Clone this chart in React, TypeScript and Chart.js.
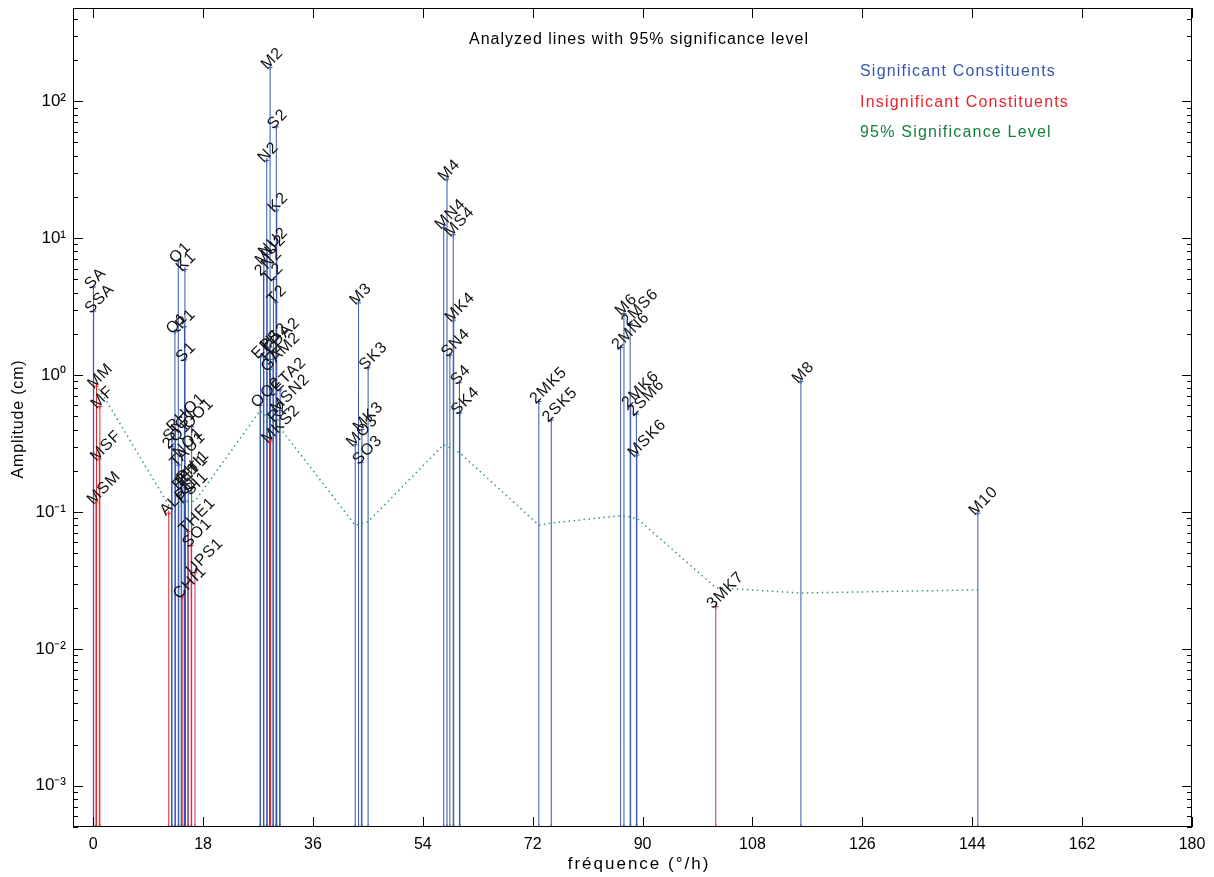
import React, { useEffect, useRef } from 'react';
import { Chart, registerables } from 'chart.js';

Chart.register(...registerables);

// ---- Data ----
const constNames = [
  'SA', 'SSA', 'MSM', 'MM', 'MSF', 'MF',
  'ALP1', '2Q1', 'SIG1', 'Q1', 'RHO1', 'O1', 'TAU1', 'BET1', 'NO1', 'CHI1', 'PI1', 'P1', 'S1', 'K1', 'PSI1', 'PHI1', 'THE1', 'J1', 'SO1', 'OO1', 'UPS1',
  'OQ2', 'EPS2', '2N2', 'MU2', 'N2', 'NU2', 'GAM2', 'H1', 'M2', 'H2', 'MKS2', 'LDA2', 'L2', 'T2', 'S2', 'R2', 'K2', 'MSN2', 'ETA2',
  'MO3', 'M3', 'SO3', 'MK3', 'SK3',
  'MN4', 'M4', 'SN4', 'MS4', 'MK4', 'S4', 'SK4',
  '2MK5', '2SK5',
  '2MN6', 'M6', '2MS6', '2MK6', '2SM6', 'MSK6',
  '3MK7', 'M8', 'M10',
];
const constFreqs = [
  0.0411, 0.0821, 0.4715, 0.5444, 1.0159, 1.098,
  12.3828, 12.8543, 12.9271, 13.3987, 13.4715, 13.943, 14.0252, 14.4145, 14.4967, 14.5695, 14.9179, 14.9589, 15.0, 15.0411, 15.0821, 15.1232, 15.5126, 15.5854, 16.057, 16.1391, 16.6835,
  27.3416, 27.4238, 27.8954, 27.9682, 28.4397, 28.5126, 28.9112, 28.943, 28.9841, 29.0252, 29.0662, 29.4556, 29.5285, 29.9589, 30.0, 30.0411, 30.0821, 30.5444, 30.6265,
  42.9271, 43.4762, 43.943, 44.0252, 45.0411,
  57.4238, 57.9682, 58.4397, 58.9841, 59.0662, 60.0, 60.0821,
  73.0093, 75.0411,
  86.4079, 86.9523, 87.9682, 88.0503, 88.9841, 89.0662,
  101.9913, 115.9364, 144.9205,
];
const constAmps = [
  4.4, 2.93, 0.118, 0.83, 0.244, 0.59,
  0.098, 0.3, 0.34, 2.07, 0.4, 6.8, 0.22, 0.15, 0.26, 0.024, 0.16, 2.25, 1.29, 5.9, 0.12, 0.17, 0.072, 0.14, 0.057, 0.42, 0.036,
  0.6, 1.36, 5.5, 6.6, 37, 7.6, 1.1, 1.6, 177, 1.3, 0.33, 1.5, 5.0, 3.4, 65, 0.47, 16, 0.55, 0.78,
  0.31, 3.37, 0.23, 0.4, 1.13,
  12.0, 27, 1.4, 10.6, 2.52, 0.88, 0.53,
  0.64, 0.47,
  1.59, 2.82, 2.38, 0.6, 0.52, 0.26,
  0.0204, 0.9, 0.098,
];
const constSignificant = [
  true, true, false, false, false, false,
  false, true, true, true, true, true, true, true, true, false, true, true, true, true, true, true, false, true, false, true, false,
  true, true, true, true, true, true, true, true, true, true, false, true, true, true, true, true, true, true, true,
  true, true, true, true, true,
  true, true, true, true, true, true, true,
  true, true,
  true, true, true, true, true, true,
  false, true, true,
];

const sigFreqs = [0.0411, 1.098, 12.3828, 16.6835, 27.3416, 30.6265, 42.9271, 45.0411, 57.4238, 60.0821, 73.0093, 75.0411, 86.4079, 89.0662, 101.9913, 115.9364, 144.9205];
const sigLevels = [0.8, 0.78, 0.112, 0.12, 0.55, 0.41, 0.08, 0.085, 0.31, 0.27, 0.08, 0.083, 0.094, 0.09, 0.028, 0.0256, 0.027];

const xTickValues = [0, 18, 36, 54, 72, 90, 108, 126, 144, 162, 180];
const yTickValues = [1e-3, 1e-2, 1e-1, 1, 10, 100];

const titleText = 'Analyzed lines with 95% significance level';
const legendLabels = ['Significant Constituents', 'Insignificant Constituents', '95% Significance Level'];
const xTitle = 'fréquence (°/h)';
const yTitle = 'Amplitude (cm)';

// ---- Styles ----
const X_MIN = -3.3;
const X_MAX = 180;
const Y_MIN = 5e-4;
const Y_MAX = 480;
const BLUE = '#3557ae';
const RED = '#e8242b';
const GREEN = '#17803f';
const SIG_COLOR = '#2f9a78';
const FONT = '"Liberation Sans", Arial, Helvetica, sans-serif';

const SUP: Record<string, string> = { '-': '⁻', '0': '⁰', '1': '¹', '2': '²', '3': '³', '4': '⁴' };
const supStr = (s: string) => s.split('').map((c) => SUP[c] || c).join('');

function stemData(sig: boolean) {
  const d: any[] = [];
  constNames.forEach((_, i) => {
    if (constSignificant[i] === sig) {
      d.push({ x: constFreqs[i], y: Y_MIN }, { x: constFreqs[i], y: constAmps[i] }, { x: constFreqs[i], y: null });
    }
  });
  return d;
}

const zeroPad = (s: any) => {
  s.paddingTop = 0;
  s.paddingBottom = 0;
  s.paddingLeft = 0;
  s.paddingRight = 0;
};

const decorPlugin = {
  id: 'decor',
  afterDatasetsDraw(chart: any) {
    const { ctx, scales } = chart;
    const xs = scales.x;
    const ys = scales.y;
    ctx.save();
    ctx.fillStyle = '#111';
    ctx.font = `16px ${FONT}`;
    ctx.letterSpacing = '0.8px';
    ctx.textAlign = 'left';
    ctx.textBaseline = 'alphabetic';
    constNames.forEach((n, i) => {
      const px = xs.getPixelForValue(constFreqs[i]);
      const py = ys.getPixelForValue(constAmps[i]);
      ctx.save();
      ctx.translate(px - 3, py + 3);
      ctx.rotate(-Math.PI / 4);
      ctx.fillText(n, 0, 0);
      ctx.restore();
    });
    ctx.restore();
  },
  afterDraw(chart: any) {
    const { ctx, chartArea, scales } = chart;
    const { left, right, top, bottom } = chartArea;
    const xs = scales.x;
    const ys = scales.y;
    ctx.save();
    ctx.strokeStyle = '#000';
    ctx.lineWidth = 1;
    ctx.strokeRect(Math.round(left) + 0.5, Math.round(top) + 0.5, Math.round(right - left) - 1, Math.round(bottom - top) - 1);
    ctx.beginPath();
    xTickValues.forEach((v) => {
      const px = Math.round(xs.getPixelForValue(v)) + 0.5;
      ctx.moveTo(px, bottom);
      ctx.lineTo(px, bottom - 10);
      ctx.moveTo(px, top);
      ctx.lineTo(px, top + 10);
    });
    for (let e = -4; e <= 3; e++) {
      for (let m = 1; m <= 9; m++) {
        const v = m * Math.pow(10, e);
        if (v < Y_MIN || v > Y_MAX) continue;
        const py = Math.round(ys.getPixelForValue(v)) + 0.5;
        const len = m === 1 ? 10 : 5;
        ctx.moveTo(left, py);
        ctx.lineTo(left + len, py);
        ctx.moveTo(right, py);
        ctx.lineTo(right - len, py);
      }
    }
    ctx.stroke();

    // title
    ctx.fillStyle = '#000';
    ctx.font = `16px ${FONT}`;
    ctx.letterSpacing = '1px';
    ctx.textAlign = 'center';
    ctx.textBaseline = 'middle';
    ctx.fillText(titleText, 639, 40);

    // legend
    ctx.font = `16px ${FONT}`;
    ctx.letterSpacing = '1.2px';
    ctx.textAlign = 'left';
    const lc = [BLUE, RED, GREEN];
    legendLabels.forEach((t, i) => {
      ctx.fillStyle = lc[i];
      ctx.fillText(t, 860, 72 + i * 30.5);
    });

    // axis titles
    ctx.fillStyle = '#000';
    ctx.textAlign = 'center';
    ctx.font = `17px ${FONT}`;
    ctx.letterSpacing = '2px';
    ctx.fillText(xTitle, 639, 864);
    ctx.font = `16px ${FONT}`;
    ctx.letterSpacing = '0.8px';
    ctx.save();
    ctx.translate(19, 419);
    ctx.rotate(-Math.PI / 2);
    ctx.fillText(yTitle, 0, 0);
    ctx.restore();
    ctx.restore();
  },
};

export default function App() {
  const ref = useRef<HTMLCanvasElement>(null);
  useEffect(() => {
    if (!ref.current) return;
    const chart = new Chart(ref.current, {
      type: 'scatter',
      data: {
        datasets: [
          {
            label: 'Significance',
            data: sigFreqs.map((f, i) => ({ x: f, y: sigLevels[i] })),
            showLine: true,
            borderColor: SIG_COLOR,
            borderWidth: 1.5,
            borderDash: [1.5, 3.5],
            pointRadius: 0,
          },
          {
            label: legendLabels[1],
            data: stemData(false),
            showLine: true,
            spanGaps: false,
            borderColor: RED,
            borderWidth: 1,
            pointStyle: 'cross',
            pointRadius: 2.5,
            pointBorderColor: RED,
            pointBorderWidth: 1,
          },
          {
            label: legendLabels[0],
            data: stemData(true),
            showLine: true,
            spanGaps: false,
            borderColor: BLUE,
            borderWidth: 1,
            pointStyle: 'cross',
            pointRadius: 2.5,
            pointBorderColor: BLUE,
            pointBorderWidth: 1,
          },
        ] as any,
      },
      options: {
        animation: false,
        responsive: false,
        events: [],
        layout: { padding: { top: 8, right: 22, left: 0, bottom: 0 } },
        plugins: { legend: { display: false }, tooltip: { enabled: false }, title: { display: false } },
        scales: {
          x: {
            type: 'linear',
            min: X_MIN,
            max: X_MAX,
            afterBuildTicks: (s: any) => {
              s.ticks = xTickValues.map((v) => ({ value: v }));
            },
            afterFit: (s: any) => {
              s.height = 50;
              zeroPad(s);
            },
            grid: { display: false, drawTicks: false },
            border: { display: false },
            ticks: {
              color: '#000',
              padding: 8,
              maxRotation: 0,
              autoSkip: false,
              font: { family: FONT, size: 16 },
              callback: (v: any) => String(v),
            },
          },
          y: {
            type: 'logarithmic',
            min: Y_MIN,
            max: Y_MAX,
            afterBuildTicks: (s: any) => {
              s.ticks = yTickValues.map((v) => ({ value: v }));
            },
            afterFit: (s: any) => {
              s.width = 73;
              zeroPad(s);
            },
            grid: { display: false, drawTicks: false },
            border: { display: false },
            ticks: {
              color: '#000',
              padding: 7,
              autoSkip: false,
              font: { family: FONT, size: 17 },
              callback: (v: any) => '10' + supStr(String(Math.round(Math.log10(Number(v))))),
            },
          },
        },
      } as any,
      plugins: [decorPlugin],
    });
    return () => chart.destroy();
  }, []);
  return (
    <div style={{ position: 'fixed', left: 0, top: 0, width: 1214, height: 877, background: '#fff' }}>
      <canvas ref={ref} width={1214} height={877} style={{ width: 1214, height: 877, display: 'block' }} />
    </div>
  );
}
